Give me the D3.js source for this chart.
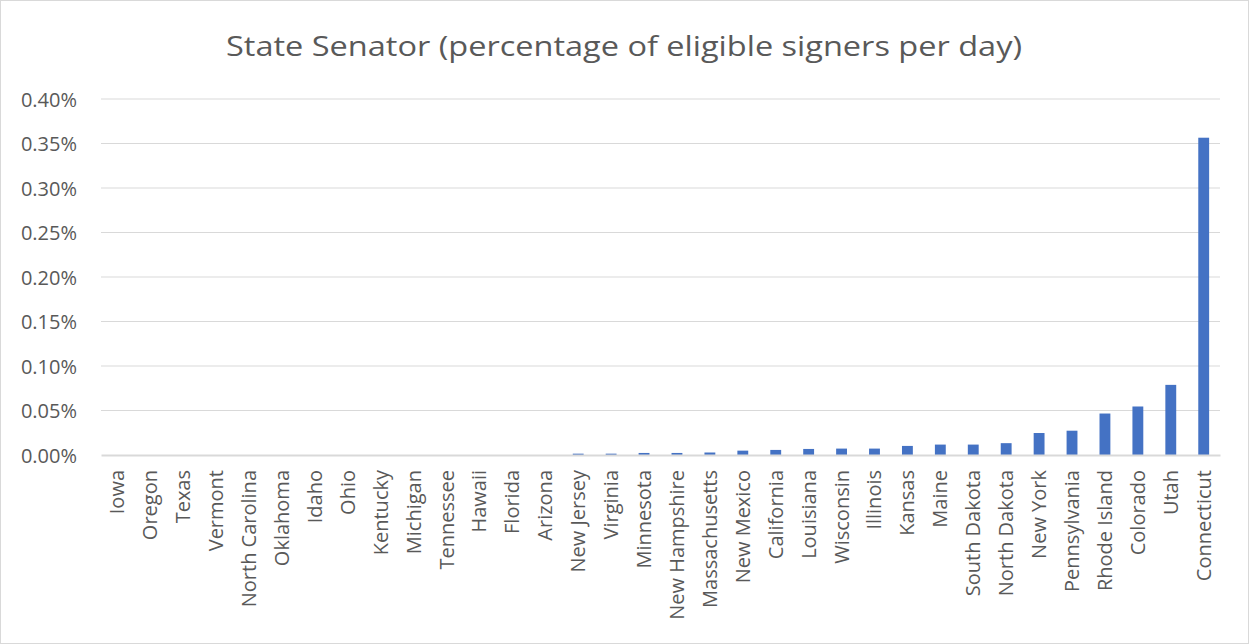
<!DOCTYPE html>
<html>
<head>
<meta charset="utf-8">
<script src="https://cdn.jsdelivr.net/npm/d3@7"></script>
<style>
  html, body { margin: 0; padding: 0; background: #fff; }
  svg { display: block; }
  text { font-family: "Open Sans", "Noto Sans", sans-serif; fill: #595959; }
</style>
</head>
<body>
<svg id="chart" width="1249" height="644"></svg>
<script>
// States, ordered from lowest to highest rate
const states = [
  "Iowa", "Oregon", "Texas", "Vermont", "North Carolina", "Oklahoma", "Idaho",
  "Ohio", "Kentucky", "Michigan", "Tennessee", "Hawaii", "Florida", "Arizona",
  "New Jersey", "Virginia", "Minnesota", "New Hampshire", "Massachusetts",
  "New Mexico", "California", "Louisiana", "Wisconsin", "Illinois", "Kansas",
  "Maine", "South Dakota", "North Dakota", "New York", "Pennsylvania",
  "Rhode Island", "Colorado", "Utah", "Connecticut"
];

// Share of eligible signers per day (fraction; 0.001 = 0.10%)
const ratePerDay = [
  0, 0, 0, 0, 0, 0, 0,
  0, 0, 0, 0, 0, 0, 0,
  0.000015, 0.000015, 0.000023, 0.000023, 0.000028,
  0.000049, 0.000057, 0.000068, 0.000072, 0.000072, 0.000102,
  0.000117, 0.000117, 0.000133, 0.000247, 0.000273,
  0.000466, 0.000545, 0.000788, 0.003565
];

const yTicks = [0, 0.0005, 0.001, 0.0015, 0.002, 0.0025, 0.003, 0.0035, 0.004];

const title = "State Senator (percentage of eligible signers per day)";

const svg = d3.select("#chart");
const W = 1249, H = 644;

// Outer chart frame
svg.append("rect")
  .attr("x", 0.5).attr("y", 0.5)
  .attr("width", W - 1).attr("height", H - 1)
  .attr("fill", "#fff").attr("stroke", "#d9d9d9").attr("stroke-width", 1);

const plot = { left: 101, right: 1220, top: 99, bottom: 455 };

const x = d3.scaleBand()
  .domain(states)
  .range([plot.left, plot.right])
  .paddingInner(0.67)
  .paddingOuter(0.33);

const y = d3.scaleLinear()
  .domain([0, 0.004])
  .range([plot.bottom, plot.top]);

// Title
svg.append("text")
  .attr("x", 624)
  .attr("y", 56)
  .attr("text-anchor", "middle")
  .style("font-size", "28px")
  .attr("textLength", 796)
  .attr("lengthAdjust", "spacingAndGlyphs")
  .text(title);

// Horizontal gridlines
svg.append("g")
  .selectAll("line")
  .data(yTicks.slice(1))
  .join("line")
  .attr("x1", plot.left).attr("x2", plot.right)
  .attr("y1", d => y(d)).attr("y2", d => y(d))
  .attr("stroke", "#d9d9d9").attr("stroke-width", 1);

// Y axis labels
const yAxis = d3.axisLeft(y)
  .tickValues(yTicks)
  .tickFormat(d3.format(".2%"))
  .tickSize(0)
  .tickPadding(0);
const yg = svg.append("g")
  .attr("transform", `translate(77,0)`)
  .call(yAxis);
yg.select(".domain").remove();
yg.selectAll("text")
  .style("font-size", "20px")
  .style("fill", "#595959")
  .attr("dy", "0.35em");

// Bars
svg.append("g")
  .selectAll("rect")
  .data(states.map((s, i) => ({ s, v: ratePerDay[i] })))
  .join("rect")
  .attr("x", d => x(d.s))
  .attr("width", x.bandwidth())
  .attr("y", d => y(d.v))
  .attr("height", d => y(0) - y(d.v))
  .attr("fill", "#4472c4");

// X axis baseline and category labels
const xAxis = d3.axisBottom(x).tickSize(0).tickPadding(0);
const xg = svg.append("g")
  .attr("transform", `translate(0,${plot.bottom})`)
  .call(xAxis);
xg.select(".domain")
  .attr("stroke", "#d9d9d9")
  .attr("stroke-width", 2);
xg.selectAll("text")
  .style("font-size", "20px")
  .style("fill", "#595959")
  .attr("text-anchor", "end")
  .attr("transform", "rotate(-90)")
  .attr("x", -15)
  .attr("y", 0)
  .attr("dy", "0.35em");
</script>
</body>
</html>
